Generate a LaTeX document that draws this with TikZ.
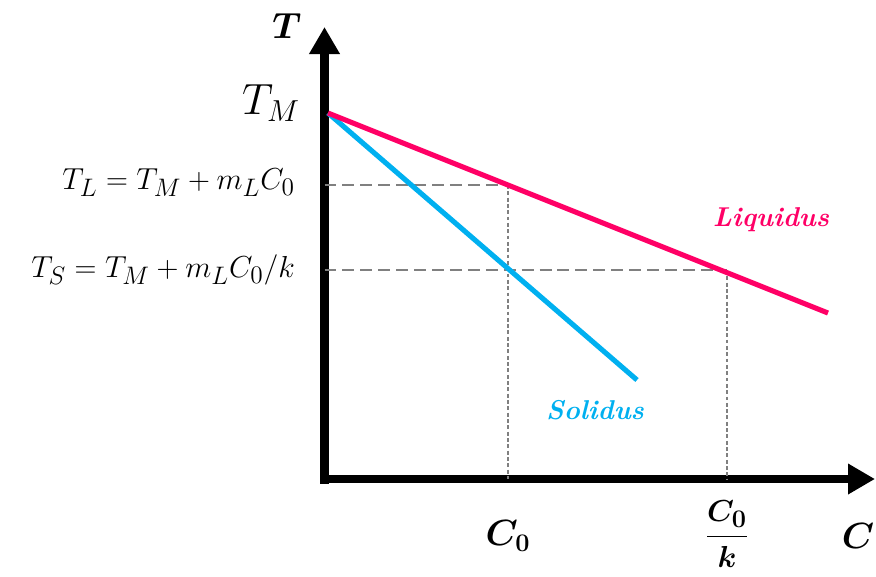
\documentclass[tikz,border=0pt]{standalone}
\usepackage{amsmath,amssymb}
\usepackage{xcolor}
\usepackage{tikz}
\usetikzlibrary{positioning,arrows.meta,calc}
\definecolor{cliq}{RGB}{255,0,102}
\definecolor{csol}{RGB}{0,176,240}
\definecolor{cguide}{RGB}{128,128,128}

\begin{document}
\begin{tikzpicture}[
          x=0.02cm, y=-0.02cm,
          every node/.style={inner sep=1pt},
          lbl/.style={font=\fontsize{19}{22}\selectfont},
          axlbl/.style={font=\fontsize{22}{26}\selectfont\boldmath},
          curvelbl/.style={font=\fontsize{15.5}{18}\selectfont\bfseries\itshape},
          axis/.style={line width=5.1pt,
            -{Triangle[length=0.54cm,width=0.58cm]}},
          liq/.style={line width=2.9pt, draw=cliq},
          sol/.style={line width=2.9pt, draw=csol},
          hguide/.style={draw=cguide, line width=1.1pt,
            dash pattern=on 6.8pt off 3.4pt},
          vguide/.style={draw=cguide, line width=0.7pt,
            dash pattern=on 2.2pt off 1.4pt},
        ]
          \useasboundingbox (0,0) rectangle (876,576);

          % ── Axes ─────────────────────────────────────────────
          \coordinate (O)  at (324.5,479);
          \coordinate (Ty) at (324.5,27);
          \coordinate (Cx) at (875,479);
          \draw[axis] ($(O)+(0,4.5)$) -- (Ty);
          \draw[axis] ($(O)+(-4.5,0)$) -- (Cx);

          % ── Key points ───────────────────────────────────────
          \coordinate (M)    at (328,113);
          \coordinate (Lend) at (828,313);
          \coordinate (Send) at (637,380);
          \coordinate (L0)   at (508,185);
          \coordinate (S0)   at (508,270);
          \coordinate (L1)   at (727,270);

          % ── Guides ───────────────────────────────────────────
          \draw[hguide] (O |- L0) -- (L0);
          \draw[hguide] (O |- L1) -- (L1);
          \draw[vguide] (L0) -- (L0 |- O);
          \draw[vguide] (L1) -- (L1 |- O);

          % ── Liquidus and solidus ─────────────────────────────
          \draw[sol] (M) -- (Send);
          \draw[liq] (M) -- (Lend);

          % ── Labels ───────────────────────────────────────────
          \node[axlbl] (Tlab)  at (287,26)  {$T$};
          \node[axlbl] (Clab)  at (858,536) {$C$};
          \node[lbl,font=\fontsize{23}{26}\selectfont] (TM) at (271,103) {$T_M$};
          \node[lbl,anchor=east] (TL) at (297,183) {$T_L=T_M+m_LC_0$};
          \node[lbl,anchor=east] (TS) at (297,270) {$T_S=T_M+m_LC_0/k$};
          \node[axlbl] (C0)    at (508,536) {$C_0$};
          \node[axlbl,font=\fontsize{19}{22}\selectfont\boldmath] (C0k) at (727,534) {$\dfrac{C_0}{k}$};
          \node[curvelbl,text=cliq] (Liq) at (771,220) {Liquidus};
          \node[curvelbl,text=csol] (Sol) at (595,410) {Solidus};

        \end{tikzpicture}
\end{document}
